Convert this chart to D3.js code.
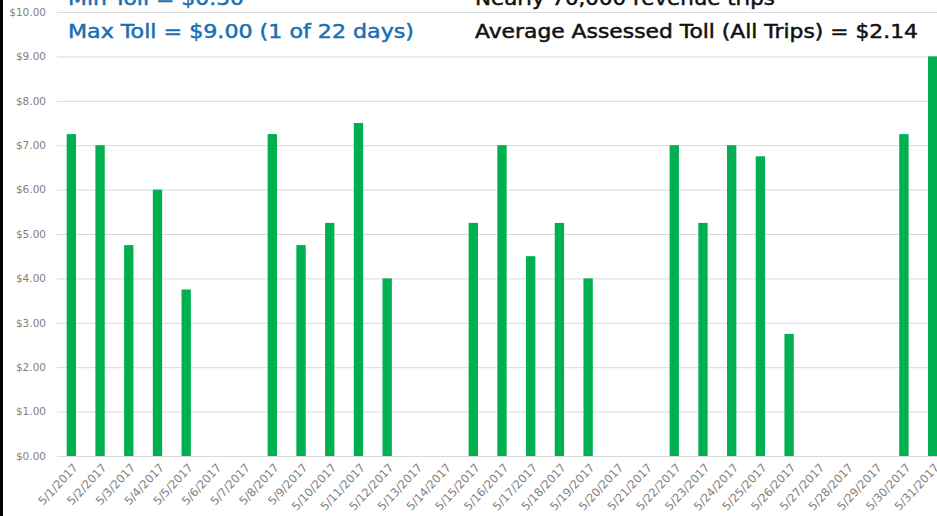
<!DOCTYPE html>
<html>
<head>
<meta charset="utf-8">
<script src="https://cdn.jsdelivr.net/npm/d3@7"></script>
<style>
  body { margin: 0; background: #fff; overflow: hidden; }
  .axis text { font-family: "DejaVu Sans", sans-serif; fill: #7f7f7f; }
</style>
</head>
<body>
<div id="chartArea"></div>
<script>
// daily max toll, May 2017
var days = [];
for (var d = 1; d <= 31; d++) { days.push("5/" + d + "/2017"); }
var tolls = [7.25, 7.00, 4.75, 6.00, 3.75, 0, 0,
             7.25, 4.75, 5.25, 7.50, 4.00, 0, 0,
             5.25, 7.00, 4.50, 5.25, 4.00, 0, 0,
             7.00, 5.25, 7.00, 6.75, 2.75, 0, 0,
             0, 7.25, 9.00];
var yTicks = [0, 1, 2, 3, 4, 5, 6, 7, 8, 9, 10];
var notesBlue = ["Min Toll = $0.50", "Max Toll = $9.00 (1 of 22 days)"];
var notesBlack = ["Nearly 70,000 revenue trips", "Average Assessed Toll (All Trips) = $2.14"];
// widths of the note lines as they appear on the slide
var blueLens = [176, 346];
var blackLens = [300, 443];

var width = 937;
var height = 516;
var plot = {left: 57, right: 947, top: 12, bottom: 456};

var svg = d3.select("#chartArea")
    .append("svg")
    .attr("width", width)
    .attr("height", height);

var xScale = d3.scaleBand()
    .domain(days)
    .range([plot.left, plot.right])
    .paddingInner(0.675)
    .paddingOuter(0.3375);
var yScale = d3.scaleLinear()
    .domain([0, 10])
    .range([plot.bottom, plot.top]);

// gridlines
svg.append("g")
    .selectAll("line")
    .data(yTicks)
    .enter().append("line")
    .attr("x1", plot.left)
    .attr("x2", width)
    .attr("y1", function (v) { return yScale(v) + 0.5; })
    .attr("y2", function (v) { return yScale(v) + 0.5; })
    .attr("stroke", "#d9d9d9")
    .attr("stroke-width", 1);

// y axis labels
var gyAxis = svg.append("g").attr("class", "axis")
    .attr("transform", "translate(" + (plot.left - 8) + ",0)")
    .call(d3.axisLeft(yScale).tickValues(yTicks).tickSize(0).tickPadding(3)
        .tickFormat(function (v) { return "$" + v.toFixed(2); }));
gyAxis.select(".domain").remove();
gyAxis.selectAll("text").attr("font-size", "10.5px");

// x axis labels
var gxAxis = svg.append("g").attr("class", "axis")
    .attr("transform", "translate(0," + plot.bottom + ")")
    .call(d3.axisBottom(xScale).tickSize(0));
gxAxis.select(".domain").remove();
gxAxis.selectAll("text")
    .attr("font-size", "11.5px")
    .attr("text-anchor", "end")
    .attr("dy", 0)
    .attr("transform", "translate(5,10) rotate(-47)");

// bars
svg.append("g")
    .selectAll("rect")
    .data(tolls)
    .enter().append("rect")
    .attr("x", function (v, i) { return xScale(days[i]); })
    .attr("width", xScale.bandwidth())
    .attr("y", function (v) { return yScale(v); })
    .attr("height", function (v) { return plot.bottom - yScale(v); })
    .attr("fill", "#00b050");

// notes
svg.append("g")
    .selectAll("text")
    .data(notesBlue)
    .enter().append("text")
    .attr("x", 68)
    .attr("y", function (t, i) { return 5 + i * 33; })
    .attr("font-family", "DejaVu Sans, sans-serif")
    .attr("font-size", "20px")
    .attr("fill", "#1a6fb2")
    .attr("stroke", "#1a6fb2")
    .attr("stroke-width", 0.5)
    .attr("textLength", function (t, i) { return blueLens[i]; })
    .attr("lengthAdjust", "spacingAndGlyphs")
    .text(function (t) { return t; });
svg.append("g")
    .selectAll("text")
    .data(notesBlack)
    .enter().append("text")
    .attr("x", 475)
    .attr("y", function (t, i) { return 5 + i * 33; })
    .attr("font-family", "DejaVu Sans, sans-serif")
    .attr("font-size", "20px")
    .attr("fill", "#111")
    .attr("stroke", "#111")
    .attr("stroke-width", 0.5)
    .attr("textLength", function (t, i) { return blackLens[i]; })
    .attr("lengthAdjust", "spacingAndGlyphs")
    .text(function (t) { return t; });

// left frame line
svg.append("rect")
    .attr("x", 0)
    .attr("y", 0)
    .attr("width", 3)
    .attr("height", height)
    .attr("fill", "#000");
</script>
</body>
</html>
